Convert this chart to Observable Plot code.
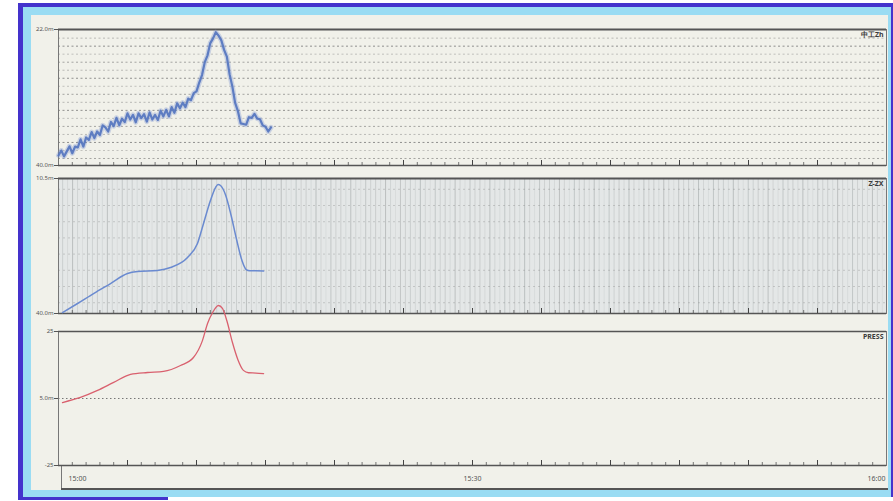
<!DOCTYPE html>
<html><head><meta charset="utf-8">
<script src="https://cdn.jsdelivr.net/npm/d3@7"></script>
<script src="https://cdn.jsdelivr.net/npm/@observablehq/plot@0.6"></script>
<style>
body{margin:0;width:893px;height:501px;position:relative;background:#fff;overflow:hidden;font-family:"DejaVu Sans",sans-serif}
.abs{position:absolute}
svg{overflow:visible}
</style></head><body>
<div class="abs" style="left:18px;top:3px;width:875px;height:494px;background:#4433cc"></div>
<div class="abs" style="left:18px;top:497px;width:150px;height:3px;background:#4433cc"></div>
<div class="abs" style="left:23px;top:7px;width:868px;height:490px;background:#9adcf3"></div>
<div class="abs" style="left:31px;top:15px;width:857px;height:475px;background:#f1f1ea"></div>
<div class="abs" style="left:61px;top:465px;width:1px;height:25px;background:#777"></div>
<div class="abs" style="left:61px;top:488px;width:827px;height:2px;background:#555"></div>
<div id="p1" class="abs" style="left:0;top:15px"></div>
<div id="p2" class="abs" style="left:0;top:175px"></div>
<div id="p3" class="abs" style="left:0;top:318px"></div>
<script>
// ---- data ----
const SAMPLE_STEP = 0.2; // minutes between samples of channel 1
const ch1Values = [7.4, 11, 6.7, 10.4, 14.1, 9, 13.9, 13.3, 19.2, 13.9, 20.6, 18.8, 24.6, 20.1, 25, 22.4, 29.5, 28, 25, 32,
  29, 35.1, 29.6, 34.4, 31.9, 38.3, 33.8, 37.2, 31.8, 38.3, 34.8, 37.8, 32.3, 39, 33.8, 37.2, 33.5, 40.3, 36.1, 40.9,
  36.1, 42.9, 38.8, 45.7, 42.1, 46.2, 42.9, 49.2, 48, 53.2, 54.5, 61, 66.5, 76, 81, 90, 93.5, 98, 95.5, 92,
  85, 80, 67, 58, 46, 40, 31, 30.5, 30, 35.5, 35, 38, 34.5, 34, 29.5, 28.5, 25, 28];
const ch2Times  = [0.29, 1.38, 2.54, 3.77, 5.0, 5.72, 7.17, 8.12, 9.35, 10.07, 10.51, 11.01, 11.38, 11.56, 11.74, 12.1, 12.5, 12.9, 13.3, 13.6, 13.85, 14.3, 14.86];
const ch2Values = [0.7, 7.4, 14.8, 22.2, 29.6, 31.1, 31.9, 34.1, 41.5, 51.9, 66.7, 83.7, 93.3, 95.5, 94.8, 88, 73, 55, 39, 32.5, 31.6, 31.6, 31.4];
const ch3Times  = [0.29, 1.59, 2.83, 4.0, 5.22, 6.45, 7.61, 8.84, 9.78, 10.43, 10.8, 11.16, 11.59, 11.88, 12.2, 12.6, 13.0, 13.4, 13.77, 14.3, 14.86];
const ch3Values = [-1.5, 0.4, 3.0, 6.0, 9.0, 9.7, 10.1, 12.3, 15.3, 21.6, 28, 32, 34.7, 33.6, 29, 21, 14.5, 10.5, 9.6, 9.5, 9.3];
const panelNames = ["中工Zh", "Z-ZX", "PRESS"];
const ch1AxisLabels = ["40.0m", "22.0m"];
const ch2AxisLabels = ["40.0m", "10.5m"];
const ch3AxisTicks = [-25, 0, 25];
const ch3AxisLabels = ["-25", "5.0m", "25"];
const timeTicks = [0, 30, 60];
const timeLabels = ["15:00", "15:30", "16:00"];

const ch1 = ch1Values.map((v, i) => ({t: i * SAMPLE_STEP, v}));
const ch2 = ch2Times.map((t, i) => ({t, v: ch2Values[i]}));
const ch3 = ch3Times.map((t, i) => ({t, v: ch3Values[i]}));
const minutes = d3.range(1, 60);

const W = 893, ML = 58, MR = 7;
const xOpt = {domain: [0, 60], axis: null};

function minorTicks(lo, span, h) {
  const k = span / h;
  return [
    Plot.ruleX(minutes.filter(m => m % 5), {x: d => d, y1: lo, y2: lo + 3 * k, stroke: "#555", strokeWidth: 0.8}),
    Plot.ruleX(minutes.filter(m => m % 5 === 0), {x: d => d, y1: lo, y2: lo + 5 * k, stroke: "#444", strokeWidth: 1})
  ];
}
function nameLabel(name) {
  return Plot.text([name], {text: d => d, frameAnchor: "top-right", dx: -3, dy: 3, fontSize: 7, fontWeight: "bold", fill: "#3a3a3a"});
}
const axisStyle = {tickSize: 4, fontSize: 6, color: "#555", tickPadding: 1, label: null};

// ---- panel 1 ----
const h1 = 136;
const rows1 = d3.range(16).map(k => 5.15 + k * 5.9);
document.getElementById("p1").append(Plot.plot({
  width: W, height: 160, marginLeft: ML, marginRight: MR, marginTop: 14, marginBottom: 10,
  style: {background: "transparent", overflow: "visible"},
  x: xOpt, y: {domain: [0, 100], axis: null},
  marks: [
    Plot.ruleY(rows1, {y: d => d, stroke: "#666", strokeDasharray: "2,2.5", strokeOpacity: (d, i) => [0.55, 0.35, 0.7, 0.4][i % 4]}),
    Plot.frame({stroke: "#777"}),
    Plot.ruleY([100], {stroke: "#555", strokeWidth: 2}),
    Plot.ruleY([0], {stroke: "#555", strokeWidth: 1.6}),
    ...minorTicks(0, 100, h1),
    Plot.axisY({...axisStyle, ticks: [0, 100], tickFormat: (d, i) => ch1AxisLabels[i]}),
    Plot.line(ch1, {x: "t", y: "v", stroke: "#7d96d0", strokeWidth: 5, strokeOpacity: 0.35}),
    Plot.line(ch1, {x: "t", y: "v", stroke: "#5273bf", strokeWidth: 2.2, strokeOpacity: 0.9}),
    nameLabel(panelNames[0])
  ]
}));

// ---- panel 2 ----
const h2 = 135;
const cols2 = d3.range(0.3, 60, 0.36);
const rows2 = d3.range(8).map(k => 8 + k * 12);
document.getElementById("p2").append(Plot.plot({
  width: W, height: 143, marginLeft: ML, marginRight: MR, marginTop: 3, marginBottom: 5,
  style: {background: "transparent", overflow: "visible"},
  x: xOpt, y: {domain: [0, 100], axis: null},
  marks: [
    Plot.frame({fill: "#e4e7e7"}),
    Plot.ruleX(cols2, {x: d => d, stroke: "#9aa0a0", strokeOpacity: (d, i) => [0.35, 0.2, 0.55, 0.25, 0.15, 0.45, 0.3][i % 7]}),
    Plot.ruleY(rows2, {y: d => d, stroke: "#888", strokeDasharray: "2,3", strokeOpacity: 0.35}),
    Plot.frame({stroke: "#777"}),
    Plot.ruleY([100], {stroke: "#555", strokeWidth: 1.8}),
    Plot.ruleY([0], {stroke: "#555", strokeWidth: 1.6}),
    ...minorTicks(0, 100, h2),
    Plot.axisY({...axisStyle, ticks: [0, 100], tickFormat: (d, i) => ch2AxisLabels[i]}),
    Plot.line(ch2, {x: "t", y: "v", curve: "monotone-x", stroke: "#6a8ad0", strokeWidth: 1.5}),
    nameLabel(panelNames[1])
  ]
}));

// ---- panel 3 ----
const h3 = 134;
document.getElementById("p3").append(Plot.plot({
  width: W, height: 172, marginLeft: ML, marginRight: MR, marginTop: 13, marginBottom: 25,
  style: {background: "transparent", overflow: "visible"},
  x: xOpt, y: {domain: [-25, 25], axis: null},
  marks: [
    Plot.ruleY([0], {stroke: "#777", strokeDasharray: "1.5,2.5"}),
    Plot.frame({stroke: "#777"}),
    Plot.ruleY([25], {stroke: "#555", strokeWidth: 1.4}),
    Plot.ruleY([-25], {stroke: "#555", strokeWidth: 1.6}),
    ...minorTicks(-25, 50, h3),
    Plot.axisY({...axisStyle, ticks: ch3AxisTicks, tickFormat: (d, i) => ch3AxisLabels[i]}),
    Plot.line(ch3, {x: "t", y: "v", curve: "monotone-x", stroke: "#d9606e", strokeWidth: 1.3}),
    Plot.text([timeLabels[0]], {x: timeTicks[0], y: -25, text: d => d, dy: 13, dx: 10, textAnchor: "start", fontSize: 7, fill: "#555"}),
    Plot.text([timeLabels[1]], {x: timeTicks[1], y: -25, text: d => d, dy: 13, textAnchor: "middle", fontSize: 7, fill: "#555"}),
    Plot.text([timeLabels[2]], {x: timeTicks[2], y: -25, text: d => d, dy: 13, dx: -1, textAnchor: "end", fontSize: 7, fill: "#555"}),
    nameLabel(panelNames[2])
  ]
}));
</script>
</body></html>
